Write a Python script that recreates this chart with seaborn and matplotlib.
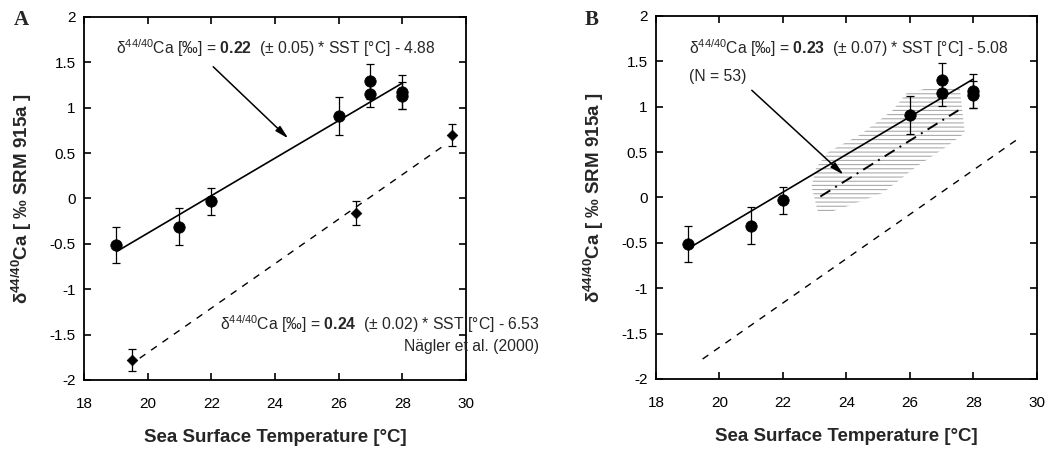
import numpy as np
import matplotlib
matplotlib.use("Agg")
import matplotlib.pyplot as plt
import seaborn as sns
import pandas as pd

# ---- data ----
sst_obs = [19.0, 21.0, 22.0, 26.0, 27.0, 27.0, 28.0, 28.0]
d44_obs = [-0.51, -0.31, -0.03, 0.91, 1.29, 1.15, 1.17, 1.13]
err_obs = [0.20, 0.20, 0.15, 0.21, 0.19, 0.14, 0.19, 0.15]

sst_nagler = [19.5, 26.55, 29.55]
d44_nagler = [-1.78, -0.16, 0.70]
err_nagler = [0.12, 0.13, 0.12]

# regression lines (end points as drawn)
fitA_x = [19.05, 28.0]
fitA_y = [-0.58, 1.27]
nagA_x = [19.75, 29.3]
nagA_y = [-1.76, 0.58]

fitB_x = [19.03, 27.98]
fitB_y = [-0.56, 1.30]
nagB_x = [19.47, 29.47]
nagB_y = [-1.78, 0.66]
cultB_x = [23.18, 27.53]
cultB_y = [0.01, 0.96]

# shaded (hatched) field of the N = 53 samples
field_x = [22.90, 23.11, 23.42, 24.01, 25.15, 26.21, 27.16, 27.73,
           27.57, 26.53, 25.90, 25.46, 24.43, 23.42, 23.05]
field_y = [0.12, -0.17, -0.17, -0.10, 0.05, 0.34, 0.56, 0.71,
           1.21, 1.20, 1.15, 0.96, 0.69, 0.50, 0.33]

xticks = [18, 20, 22, 24, 26, 28, 30]
yticks = [-2, -1.5, -1, -0.5, 0, 0.5, 1, 1.5, 2]
ytick_labels = ["-2", "-1.5", "-1", "-0.5", "0", "0.5", "1", "1.5", "2"]

eqA = r"δ$^{44/40}$Ca [‰] = $\mathbf{0.22}$  (± 0.05) * SST [°C] - 4.88"
eqN = r"δ$^{44/40}$Ca [‰] = $\mathbf{0.24}$  (± 0.02) * SST [°C] - 6.53"
eqB = r"δ$^{44/40}$Ca [‰] = $\mathbf{0.23}$  (± 0.07) * SST [°C] - 5.08"

sns.set_style("ticks")
plt.rcParams["font.family"] = ["Liberation Sans", "DejaVu Sans"]
plt.rcParams["mathtext.fontset"] = "custom"
plt.rcParams["mathtext.rm"] = "Liberation Sans"
plt.rcParams["mathtext.bf"] = "Liberation Sans:bold"
plt.rcParams["mathtext.it"] = "Liberation Sans:italic"
plt.rcParams["hatch.linewidth"] = 0.8

fig = plt.figure(figsize=(10.58, 4.5), dpi=100)
axA = fig.add_axes([0.0794, 0.1556, 0.361, 0.807])
axB = fig.add_axes([0.620, 0.1578, 0.360, 0.807])

obs = pd.DataFrame({"sst": sst_obs, "d44": d44_obs})
nag = pd.DataFrame({"sst": sst_nagler, "d44": d44_nagler})


def style_axes(ax):
    ax.set_xlim(18, 30)
    ax.set_ylim(-2, 2)
    ax.set_xticks(xticks)
    ax.set_yticks(yticks)
    ax.set_yticklabels(ytick_labels)
    ax.tick_params(direction="in", length=5, width=1.2, labelsize=11,
                   top=True, right=True, colors="black")
    ax.tick_params(axis="x", pad=12)
    ax.tick_params(axis="y", pad=6)
    for s in ax.spines.values():
        s.set_linewidth(1.3)
        s.set_color("black")
    ax.set_xlabel("Sea Surface Temperature [°C]", fontsize=13.5,
                  fontweight="bold", labelpad=13)
    ax.set_ylabel(r"δ$^{\mathbf{44/40}}$Ca [ ‰ SRM 915a ]", fontsize=13.5,
                  fontweight="bold", labelpad=11)


def draw_points(ax, diamonds=True):
    ax.errorbar(sst_obs, d44_obs, yerr=err_obs, fmt="none", ecolor="black",
                elinewidth=0.9, capsize=3, capthick=0.9, zorder=3)
    sns.scatterplot(data=obs, x="sst", y="d44", ax=ax, marker="o", s=68,
                    color="black", edgecolor="black", linewidth=0.5,
                    zorder=4, legend=False)
    if diamonds:
        ax.errorbar(sst_nagler, d44_nagler, yerr=err_nagler, fmt="none",
                    ecolor="black", elinewidth=0.9, capsize=3, capthick=0.9,
                    zorder=3)
        sns.scatterplot(data=nag, x="sst", y="d44", ax=ax, marker="D", s=30,
                        color="black", edgecolor="black", zorder=4,
                        legend=False)


# ---- panel A ----
sns.lineplot(x=fitA_x, y=fitA_y, ax=axA, color="black", linewidth=1.2)
sns.lineplot(x=nagA_x, y=nagA_y, ax=axA, color="black", linewidth=1.0,
             linestyle=(0, (5, 5)))
draw_points(axA)
style_axes(axA)
axA.text(19.02, 1.65, eqA, fontsize=11.3, va="center", ha="left")
axA.annotate("", xy=(24.42, 0.66), xytext=(22.06, 1.45),
             arrowprops=dict(arrowstyle="-|>,head_length=0.8,head_width=0.2",
                             color="black", lw=1.1, shrinkA=0, shrinkB=0))
axA.text(22.27, -1.39, eqN, fontsize=11.3, va="center", ha="left",
         clip_on=False)
axA.text(28.06, -1.63, "Nägler et al. (2000)", fontsize=11.3, va="center",
         ha="left", clip_on=False)

# ---- panel B ----
axB.fill(field_x, field_y, facecolor="none", edgecolor="#ababab",
         hatch="----", linewidth=0, zorder=1)
sns.lineplot(x=fitB_x, y=fitB_y, ax=axB, color="black", linewidth=1.2)
sns.lineplot(x=nagB_x, y=nagB_y, ax=axB, color="black", linewidth=1.0,
             linestyle=(0, (5, 5)))
sns.lineplot(x=cultB_x, y=cultB_y, ax=axB, color="black", linewidth=1.4,
             linestyle=(0, (6, 3, 1, 3)))
draw_points(axB, diamonds=False)
style_axes(axB)
axB.text(19.03, 1.64, eqB, fontsize=11.3, va="center", ha="left")
axB.text(19.03, 1.33, "(N = 53)", fontsize=11.3, va="center", ha="left")
axB.annotate("", xy=(23.91, 0.25), xytext=(21.02, 1.18),
             arrowprops=dict(arrowstyle="-|>,head_length=0.8,head_width=0.2",
                             color="black", lw=1.1, shrinkA=0, shrinkB=0))

fig.text(0.013, 0.955, "A", fontsize=15, fontweight="bold",
         family="Liberation Serif", va="center")
fig.text(0.553, 0.955, "B", fontsize=15, fontweight="bold",
         family="Liberation Serif", va="center")

fig.savefig("out.png", dpi=100, facecolor="white")
